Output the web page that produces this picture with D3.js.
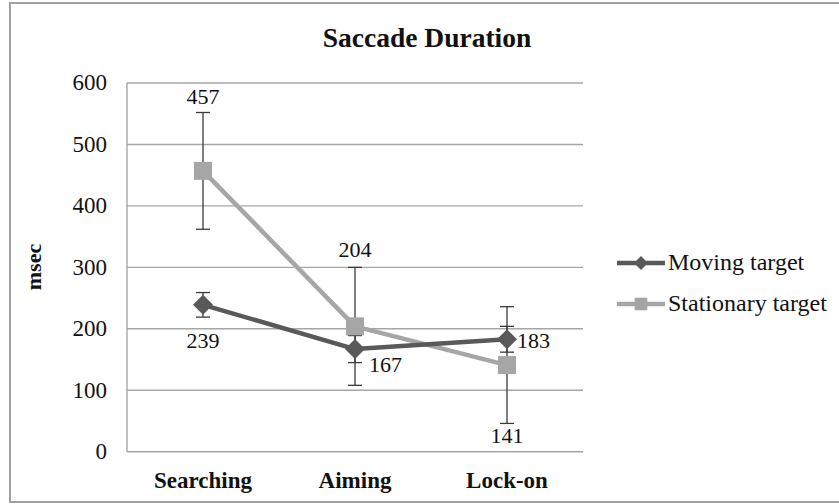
<!DOCTYPE html>
<html><head><meta charset="utf-8">
<script src="https://cdn.jsdelivr.net/npm/d3@7"></script>
<style>body{margin:0;background:#fff}svg{display:block}</style>
</head><body>
<svg id="c" width="839" height="504"></svg>
<script>
const categories = ["Searching", "Aiming", "Lock-on"];
const seriesNames = ["Moving target", "Stationary target"];
const movingValues = [239, 167, 183];
const movingErrors = [20, 22, 21];
const stationaryValues = [457, 204, 141];
const stationaryErrors = [95, 96, 95];
const yTicks = [0, 100, 200, 300, 400, 500, 600];
// label placement: "above", "below", "right"
const movingLabelPos = ["below", "right", "right"];
const stationaryLabelPos = ["above", "above", "below"];

const FONT = '"Liberation Serif"';
const svg = d3.select("#c");
svg.append("rect").attr("x", 10).attr("y", 3).attr("width", 840).attr("height", 499)
  .attr("fill", "#fff").attr("stroke", "#a0a0a0").attr("stroke-width", 2);

const m = {left: 127, right: 583, top: 83, bottom: 451.7};
const x = d3.scaleBand().domain(categories).range([m.left, m.right]);
const y = d3.scaleLinear().domain([0, 600]).range([m.bottom, m.top]);

// gridlines
svg.append("g").selectAll("line").data(yTicks).join("line")
  .attr("x1", m.left).attr("x2", m.right)
  .attr("y1", d => y(d)).attr("y2", d => y(d))
  .attr("stroke", "#a6a6a6").attr("stroke-width", 1.4);
svg.append("line").attr("x1", m.left).attr("x2", m.left).attr("y1", m.top).attr("y2", m.bottom)
  .attr("stroke", "#a6a6a6").attr("stroke-width", 1.4);

// y axis
const yAxis = d3.axisLeft(y).tickValues(yTicks).tickSize(0).tickPadding(20);
const gy = svg.append("g").attr("transform", `translate(${m.left},0)`).call(yAxis);
gy.select(".domain").remove();
gy.selectAll("text").attr("font-size", 23).attr("fill", "#111").attr("dy", "0.3em").style("font-family", FONT);

// x axis
const xAxis = d3.axisBottom(x).tickSize(0).tickPadding(0);
const gx = svg.append("g").attr("transform", `translate(0,${m.bottom})`).call(xAxis);
gx.select(".domain").remove();
gx.selectAll("text").attr("font-size", 23).attr("font-weight", "bold").attr("fill", "#111")
  .attr("dy", 0).attr("y", 36).style("font-family", FONT);

// title
svg.append("text").attr("x", 427).attr("y", 47).attr("text-anchor", "middle").style("font-family", FONT)
  .attr("font-size", 27.5).attr("font-weight", "bold").attr("fill", "#111").text("Saccade Duration");
svg.append("text").attr("transform", "translate(41,267) rotate(-90)").attr("text-anchor", "middle").style("font-family", FONT)
  .attr("font-size", 22).attr("font-weight", "bold").attr("fill", "#111").text("msec");

const cx = c => x(c) + x.bandwidth() / 2;
const diamond = r => `M0,${-r}L${r},0L0,${r}L${-r},0Z`;
const square = r => `M${-r},${-r}H${r}V${r}H${-r}Z`;
const series = [
  {name: seriesNames[0], vals: movingValues, errs: movingErrors, color: "#595959", shape: diamond, r: 10, pos: movingLabelPos},
  {name: seriesNames[1], vals: stationaryValues, errs: stationaryErrors, color: "#a6a6a6", shape: square, r: 9, pos: stationaryLabelPos}
];
const line = d3.line().x((d, i) => cx(categories[i])).y(d => y(d));

[series[1], series[0]].forEach(s => {
  svg.append("path").attr("d", line(s.vals)).attr("fill", "none")
    .attr("stroke", s.color).attr("stroke-width", 4.5).attr("stroke-linejoin", "round");
});
// error bars
series.forEach(s => {
  const g = svg.append("g").attr("stroke", "#3a3a3a").attr("stroke-width", 1.3);
  s.vals.forEach((v, i) => {
    const X = cx(categories[i]);
    g.append("line").attr("x1", X).attr("x2", X).attr("y1", y(v + s.errs[i])).attr("y2", y(v - s.errs[i]));
    [v + s.errs[i], v - s.errs[i]].forEach(e => {
      g.append("line").attr("x1", X - 7).attr("x2", X + 7).attr("y1", y(e)).attr("y2", y(e));
    });
  });
});
// markers
series.forEach(s => {
  svg.append("g").selectAll("path").data(s.vals).join("path")
    .attr("transform", (d, i) => `translate(${cx(categories[i])},${y(d)})`)
    .attr("d", s.shape(s.r)).attr("fill", s.color);
});
// labels
series.forEach(s => {
  s.vals.forEach((v, i) => {
    const X = cx(categories[i]);
    const t = svg.append("text").attr("font-size", 22).attr("fill", "#111").style("font-family", FONT).text(v);
    if (s.pos[i] === "above") {
      t.attr("x", X).attr("y", y(v + s.errs[i]) - (i === 0 ? 8 : 10)).attr("text-anchor", "middle");
    } else if (s.pos[i] === "below") {
      t.attr("x", X).attr("y", y(Math.max(v - s.errs[i], 0)) + (i === 0 ? 31 : 20)).attr("text-anchor", "middle");
    } else {
      t.attr("x", X + (i === 1 ? 14 : 10)).attr("y", y(v) + (i === 1 ? 23 : 9)).attr("text-anchor", "start");
    }
  });
});

// legend
const lg = svg.append("g");
series.forEach((s, i) => {
  const ly = 263 + i * 41;
  lg.append("line").attr("x1", 617).attr("x2", 665).attr("y1", ly).attr("y2", ly)
    .attr("stroke", s.color).attr("stroke-width", 4.5);
  lg.append("path").attr("transform", `translate(641,${ly})`)
    .attr("d", s.shape(s.r * 0.7)).attr("fill", s.color);
  lg.append("text").attr("x", 668).attr("y", ly + 7).attr("font-size", 24).attr("fill", "#111").style("font-family", FONT).text(s.name);
});
</script>
</body></html>
